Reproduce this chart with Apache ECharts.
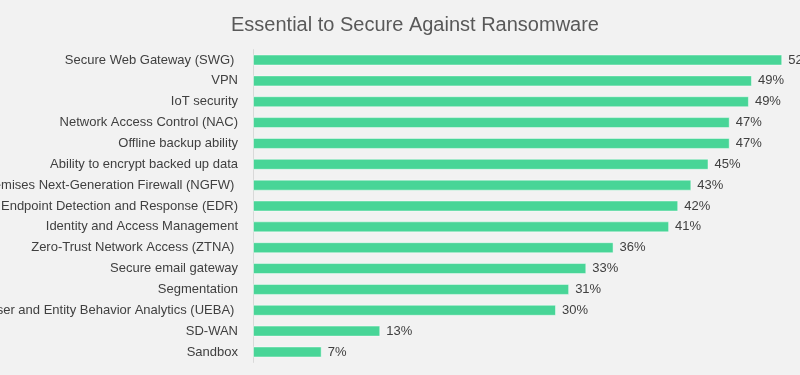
<!DOCTYPE html>
<html>
<head>
<meta charset="utf-8">
<script src="https://cdn.jsdelivr.net/npm/echarts@6/dist/echarts.min.js"></script>
<style>
  html, body { margin: 0; padding: 0; background: #f2f2f2; }
  #chart { width: 800px; height: 375px; }
</style>
</head>
<body>
<div id="chart"></div>
<script>
// categories top to bottom (as in the picture)
const categories = [
  "Secure Web Gateway (SWG) ",
  "VPN",
  "IoT security",
  "Network Access Control (NAC)",
  "Offline backup ability",
  "Ability to encrypt backed up data",
  "On-premises Next-Generation Firewall (NGFW) ",
  "Endpoint Detection and Response (EDR)",
  "Identity and Access Management",
  "Zero-Trust Network Access (ZTNA) ",
  "Secure email gateway",
  "Segmentation",
  "User and Entity Behavior Analytics (UEBA) ",
  "SD-WAN",
  "Sandbox"
];
// percent values
const values = [52.4, 49.4, 49.1, 47.2, 47.2, 45.1, 43.4, 42.1, 41.2, 35.7, 33.0, 31.3, 30.0, 12.6, 6.8];
const chartTitle = "Essential to Secure Against Ransomware";

const chart = echarts.init(document.getElementById("chart"));
chart.setOption({
  backgroundColor: "#f2f2f2",
  animation: false,
  textStyle: { fontFamily: "Liberation Sans, Arial, sans-serif" },
  title: {
    text: chartTitle,
    left: 410,
    top: 10,
    textAlign: "center",
    textStyle: {
      fontSize: 20,
      fontWeight: "normal",
      color: "#595959",
      fontFamily: "Liberation Sans, Arial, sans-serif"
    }
  },
  grid: {
    left: 253,
    right: 1.6,
    top: 49.6,
    bottom: 12.6,
    containLabel: false,
    outerBoundsMode: "none"
  },
  xAxis: {
    type: "value",
    min: 0,
    max: 54,
    show: false
  },
  yAxis: {
    type: "category",
    inverse: true,
    data: categories,
    axisLine: { lineStyle: { color: "#d9d9d9", width: 1 } },
    axisTick: { show: false },
    axisLabel: {
      color: "#404040",
      fontSize: 13,
      margin: 15
    }
  },
  series: [
    {
      type: "bar",
      data: values,
      barWidth: 11,
      itemStyle: {
        color: "#48d597",
        borderColor: "rgba(255,255,255,0.45)",
        borderWidth: 1
      },
      label: {
        show: true,
        position: "right",
        distance: 6,
        color: "#404040",
        fontSize: 13,
        formatter: (p) => Math.round(p.value) + "%"
      }
    }
  ]
});
</script>
</body>
</html>
